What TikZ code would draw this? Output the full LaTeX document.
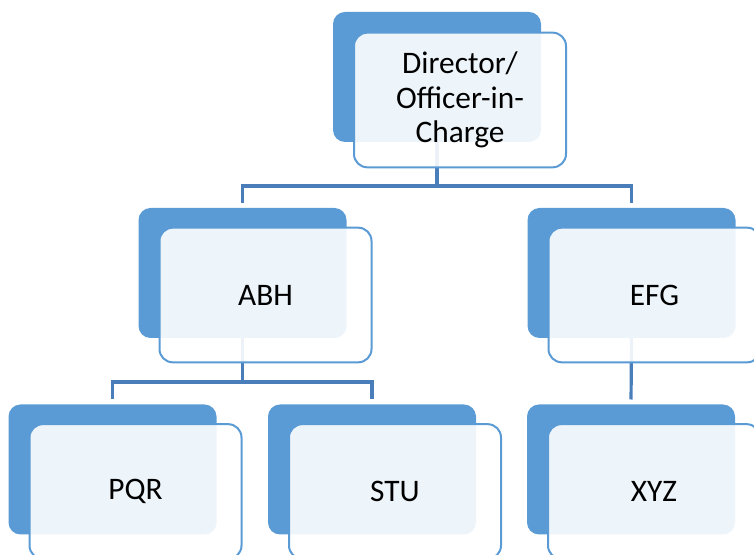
\documentclass[tikz,border=0pt]{standalone}
\usepackage{fontspec}
\setmainfont{Carlito}
\usetikzlibrary{positioning}
\definecolor{boxblue}{HTML}{5B9BD5}
\definecolor{linkblue}{HTML}{4A7EBB}

\begin{document}
\begin{tikzpicture}
[x=0.75pt, y=-0.75pt, font=\fontsize{23.5}{26}\selectfont,
  back/.style={fill=boxblue, rounded corners=9pt, minimum width=156pt,
               minimum height=97.5pt, inner sep=0pt, outer sep=0pt},
  front/.style={draw=boxblue, line width=1.5pt, fill=white, fill opacity=0.9,
                text opacity=1, rounded corners=10pt, minimum width=159pt,
                minimum height=101pt, inner sep=0pt, outer sep=0pt, align=center},
  link/.style={draw=linkblue, line width=2.4pt, shorten >=3.75pt}]
  \useasboundingbox (0,0) rectangle (754,555);
  % back boxes
  \node[back] (dir) at (437,77) {}; % root
  \node[back] (abh) at (242.5,273) {};
  \node[back] (efg) at (631.5,273) {};
  \node[back] (pqr) at (112.5,469.5) {};
  \node[back] (stu) at (372,469.5) {};
  \node[back] (xyz) at (631,469.5) {};
  % links
  \draw[link] (dir.south) -- ++(0,44) -| (abh.north);
  \draw[link] (dir.south) -- ++(0,44) -| (efg.north);
  \draw[link] (abh.south) -- ++(0,44) -| (pqr.north);
  \draw[link] (abh.south) -- ++(0,44) -| (stu.north);
  \draw[link] (efg.south) -- (xyz.north);
  % front boxes
  \node[front] (dir-f) at ([shift={(23,23)}]dir) {Director/\\Officer-in-\\Charge};
  \node[front] (abh-f) at ([shift={(23,22)}]abh) {ABH};
  \node[front] (efg-f) at ([shift={(23,22)}]efg) {EFG};
  \node[front] (pqr-f) at ([shift={(23,22)}]pqr) {PQR};
  \node[front] (stu-f) at ([shift={(23,22)}]stu) {STU};
  \node[front] (xyz-f) at ([shift={(23,22)}]xyz) {XYZ};
\end{tikzpicture}
\end{document}
